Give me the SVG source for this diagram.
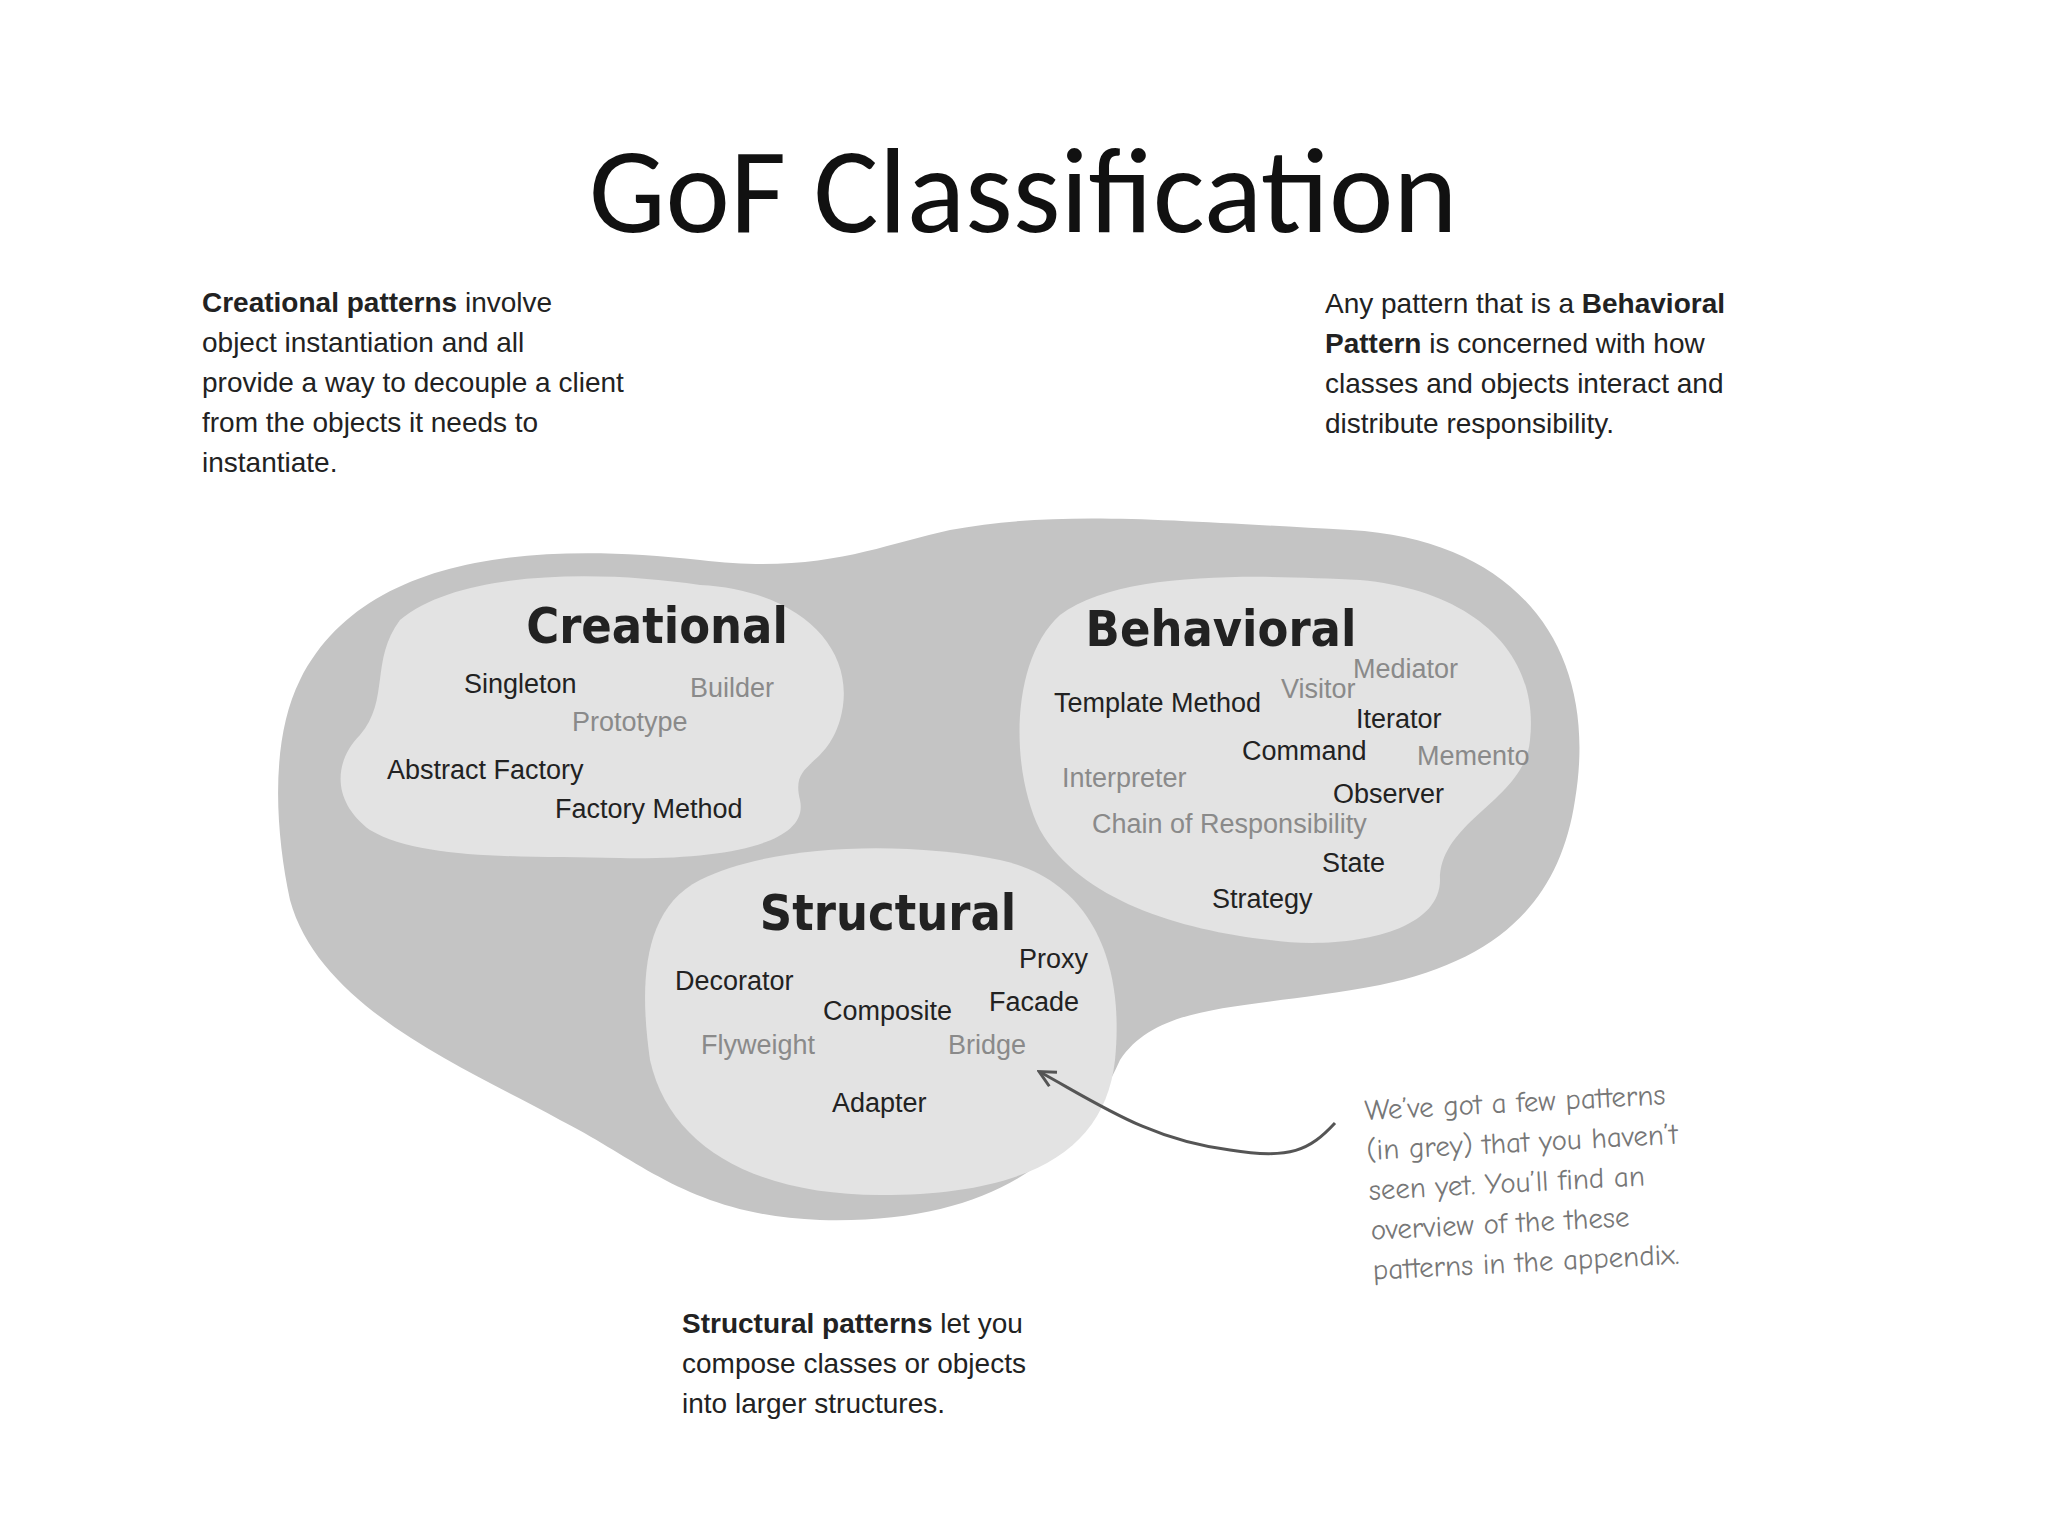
<svg xmlns="http://www.w3.org/2000/svg" width="2048" height="1536" viewBox="0 0 2048 1536">
<style>
.t{font-family:"Liberation Sans",Arial,sans-serif;font-size:28px;fill:#222}
.p{font-family:"Liberation Sans",Arial,sans-serif;font-size:27px;fill:#222}
.g{fill:#8a8a8a}
.h{font-family:"DejaVu Sans Condensed","DejaVu Sans",sans-serif;font-weight:bold;font-size:50px;fill:#222;text-anchor:middle}
.n{font-family:"Comic Neue","DejaVu Sans",sans-serif;font-size:29px;fill:#777}
</style>
<defs><marker id="a" markerWidth="20" markerHeight="20" refX="17" refY="10" orient="auto" markerUnits="userSpaceOnUse"><path d="M2,2 L18,10 L2,18" fill="none" stroke="#555" stroke-width="3"/></marker></defs>
<rect width="2048" height="1536" fill="#fff"/>
<text x="1023" y="232" font-family="Calibri,'Carlito','Open Sans',sans-serif" font-size="122" text-anchor="middle" fill="#111">GoF Classification</text>
<g id="desc-creational" class="t"><text x="202" y="312"><tspan font-weight="bold">Creational patterns</tspan> involve</text><text x="202" y="352">object instantiation and all</text><text x="202" y="392">provide a way to decouple a client</text><text x="202" y="432">from the objects it needs to</text><text x="202" y="472">instantiate.</text></g>
<g id="desc-behavioral" class="t"><text x="1325" y="313">Any pattern that is a <tspan font-weight="bold">Behavioral</tspan></text><text x="1325" y="353"><tspan font-weight="bold">Pattern</tspan> is concerned with how</text><text x="1325" y="393">classes and objects interact and</text><text x="1325" y="433">distribute responsibility.</text></g>
<g id="desc-structural" class="t"><text x="682" y="1333"><tspan font-weight="bold">Structural patterns</tspan> let you</text><text x="682" y="1373">compose classes or objects</text><text x="682" y="1413">into larger structures.</text></g>
<g id="outer"><path d="M300,680 C360,560 520,540 700,560 C820,575 880,545 950,530 C1060,510 1160,520 1350,530 C1520,540 1600,650 1575,800 C1560,900 1500,960 1380,985 C1250,1010 1160,1000 1120,1060 C1080,1150 1000,1225 820,1220 C690,1215 640,1160 560,1120 C470,1070 320,1010 290,900 C275,830 270,740 300,680 Z" fill="#c4c4c4"/></g>
<g id="creational"><path d="M400,620 C460,570 600,570 700,585 C800,590 860,650 840,720 C825,770 790,760 800,800 C810,845 720,860 620,858 C520,856 420,860 370,830 C330,800 335,760 360,735 C390,700 370,660 400,620 Z" fill="#e3e3e3"/>
<text class="h" x="657" y="643">Creational</text>
<text class="p" x="464" y="693">Singleton</text><text class="p g" x="690" y="697">Builder</text><text class="p g" x="572" y="731">Prototype</text><text class="p" x="387" y="779">Abstract Factory</text><text class="p" x="555" y="818">Factory Method</text></g>
<g id="behavioral"><path d="M1060,615 C1120,570 1260,575 1360,580 C1470,590 1540,650 1530,740 C1525,800 1440,820 1440,880 C1440,935 1340,950 1270,940 C1180,930 1080,900 1040,830 C1010,770 1010,660 1060,615 Z" fill="#e3e3e3"/>
<text class="h" x="1221" y="646">Behavioral</text>
<text class="p" x="1054" y="712">Template Method</text><text class="p g" x="1281" y="698">Visitor</text><text class="p g" x="1353" y="678">Mediator</text><text class="p" x="1356" y="728">Iterator</text><text class="p" x="1242" y="760">Command</text><text class="p g" x="1417" y="765">Memento</text><text class="p g" x="1062" y="787">Interpreter</text><text class="p" x="1333" y="803">Observer</text><text class="p g" x="1092" y="833">Chain of Responsibility</text><text class="p" x="1322" y="872">State</text><text class="p" x="1212" y="908">Strategy</text></g>
<g id="structural"><path d="M700,880 C770,845 900,840 1000,860 C1090,880 1125,960 1115,1060 C1105,1150 1030,1195 880,1195 C760,1195 670,1150 650,1060 C640,990 640,910 700,880 Z" fill="#e3e3e3"/>
<text class="h" x="888" y="930">Structural</text>
<text class="p" x="1019" y="968">Proxy</text><text class="p" x="675" y="990">Decorator</text><text class="p" x="823" y="1020">Composite</text><text class="p" x="989" y="1011">Facade</text><text class="p g" x="701" y="1054">Flyweight</text><text class="p g" x="948" y="1054">Bridge</text><text class="p" x="832" y="1112">Adapter</text></g>
<g id="connectors"><path d="M1335,1123 C1310,1150 1290,1160 1230,1150 C1150,1140 1100,1105 1040,1072" fill="none" stroke="#555" stroke-width="3" marker-end="url(#a)"/></g>
<g id="note" class="n" transform="rotate(-3 1365 1120)"><text x="1365" y="1120">We’ve got a few patterns</text><text x="1365" y="1160">(in grey) that you haven’t</text><text x="1365" y="1200">seen yet.  You’ll find an</text><text x="1365" y="1240">overview of the these</text><text x="1365" y="1280">patterns in the appendix.</text></g>
</svg>
